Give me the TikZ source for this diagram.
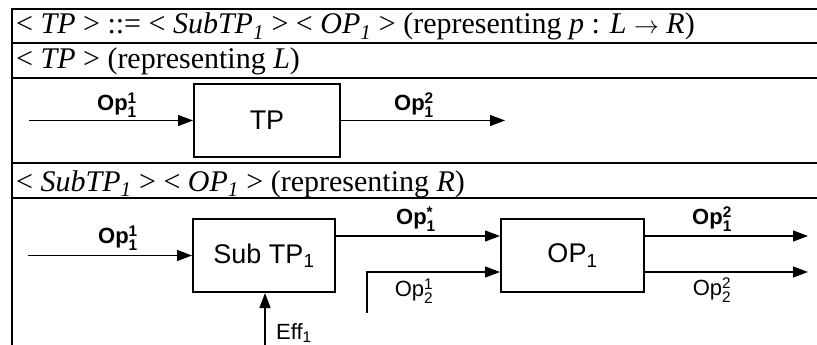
\documentclass[tikz,border=0pt]{standalone}
\usepackage{fontspec}
\usepackage{amsmath}
\setmainfont{Liberation Serif}
\setsansfont{Liberation Sans}
\usetikzlibrary{arrows.meta}
% label with stacked superscript/subscript (bold and regular)
\newcommand\opb[2]{\textbf{Op}$^{\text{\textbf{#1}}}_{\text{\textbf{#2}}}$}
\newcommand\opr[2]{Op$^{\text{#1}}_{\text{#2}}$}

\begin{document}
\begin{tikzpicture}[x=1pt,y=-1pt,
  frame/.style={line width=1.7pt,line join=miter},
  block/.style={draw,line width=2pt,minimum width=#1,minimum height=73pt,
    inner sep=0pt,font=\sffamily\fontsize{27}{30}\selectfont},
  flow/.style={line width=1.3pt,-{Triangle[length=15pt,width=11pt]}},
  lbl/.style={font=\sffamily\fontsize{22}{24}\selectfont,inner sep=0pt},
  head/.style={anchor=base west,inner sep=0pt,font=\fontsize{30}{32}\selectfont}]
\useasboundingbox (0,0) rectangle (817,345);

% table frame
\draw[frame] (12,345) -- (12,9) -- (817,9);
\foreach \y in {43,78,163,198}
  \draw[frame] (12,\y) -- (817,\y);

% header rows
\node[head] (h1) at (16,34) {<~\textit{TP}~> ::= <~\textit{SubTP\textsubscript{1}}~> <~\textit{OP\textsubscript{1}}~> (representing \textit{p} : \textit{L} $\rightarrow$ \textit{R})};
\node[head] (h2) at (16,68.5) {<~\textit{TP}~> (representing \textit{L})};
\node[head] (h3) at (16,191.5) {<~\textit{SubTP\textsubscript{1}}~> <~\textit{OP\textsubscript{1}}~> (representing \textit{R})};

% left-hand side: single TP block
\node[block=146pt] (tp) at (267,120.5) {TP};
\coordinate (inL) at (29,120.5);
\coordinate (outL) at (505,120.5);
\draw[flow] (inL) -- (tp.west);
\draw[flow] (tp.east) -- (outL);
\node[lbl] (l1) at (117,105) {\opb{1}{1}};
\node[lbl] (l2) at (414,105) {\opb{2}{1}};

% right-hand side: Sub TP followed by OP
\node[block=142pt] (sub) at (264,255.5) {Sub TP\textsubscript{1}};
\node[block=143pt] (op) at (572.5,255.5) {OP\textsubscript{1}};
\coordinate (inR) at (28,255.5);
\coordinate (effS) at (265,345);
\coordinate (rowA) at (0,236);
\coordinate (rowB) at (0,272);
\coordinate (opB) at (367,313);
\coordinate (endA) at (808,236);
\coordinate (endB) at (808,272);

\draw[flow] (inR) -- (sub.west);
\draw[flow] (effS) -- (effS |- sub.south);
\draw[flow] (sub.east |- rowA) -- (op.west |- rowA);
\draw[flow] (opB) -- (opB |- rowB) -- (op.west |- rowB);
\draw[flow] (op.east |- rowA) -- (endA);
\draw[flow] (op.east |- rowB) -- (endB);

\node[lbl] (r1) at (118,238) {\opb{1}{1}};
\node[lbl] (r2) at (416,219) {\opb{*}{1}};
\node[lbl] (r3) at (414,291) {\opr{1}{2}};
\node[lbl] (r4) at (712,219) {\opb{2}{1}};
\node[lbl] (r5) at (712,290) {\opr{2}{2}};
\node[lbl,anchor=west] (r6) at (276,333) {Eff\textsubscript{1}};
\end{tikzpicture}
\end{document}
